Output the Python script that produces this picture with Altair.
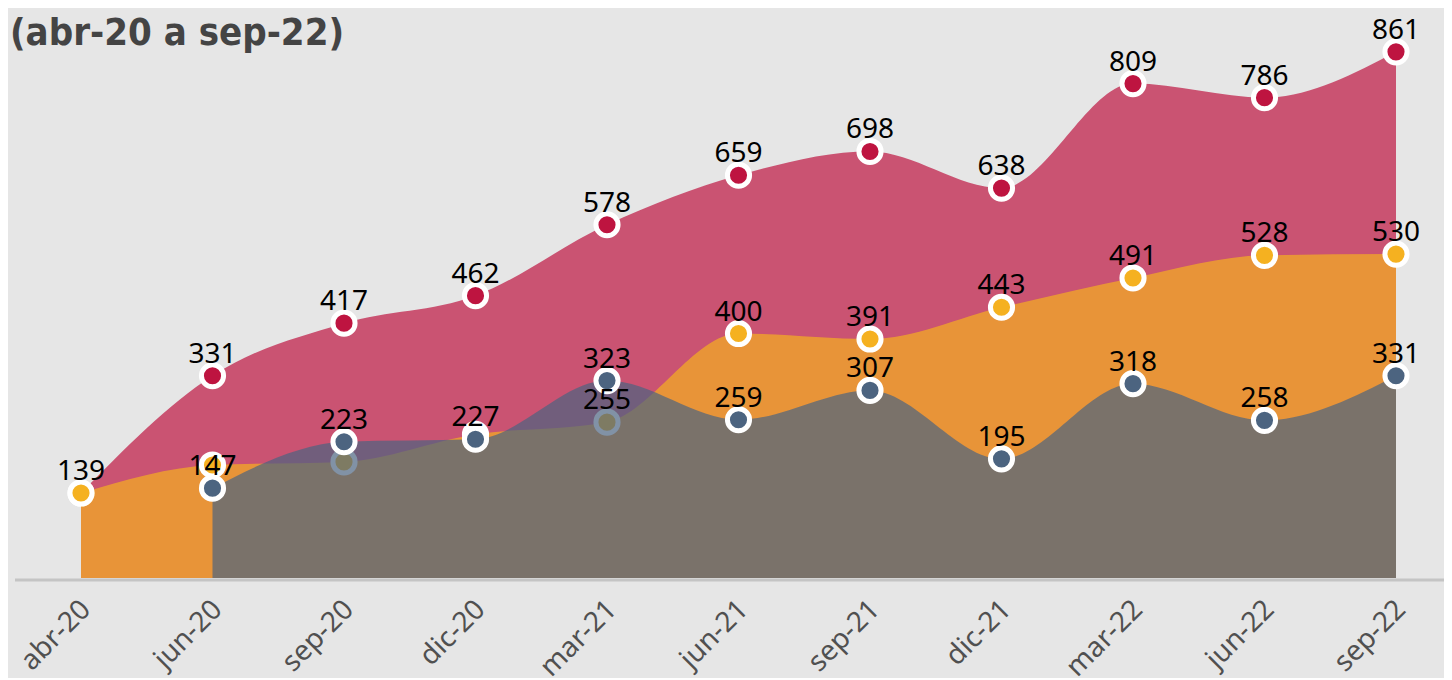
import json
import altair as alt
import pandas as pd

titulo = "(abr-20 a sep-22)"
meses = ["abr-20", "jun-20", "sep-20", "dic-20", "mar-21", "jun-21",
         "sep-21", "dic-21", "mar-22", "jun-22", "sep-22"]
rojo = [139, 331, 417, 462, 578, 659, 698, 638, 809, 786, 861]
naranja = [139, 185, 190, 235, 255, 400, 391, 443, 491, 528, 530]
azul = [None, 147, 223, 227, 323, 259, 307, 195, 318, 258, 331]
ocultas_rojo = ["abr-20"]
ocultas_naranja = ["jun-20", "sep-20", "dic-20"]
ocultas_azul = []

C_ROJO = "#be1440"
C_NARANJA = "#f5b120"
C_AZUL = "#4c6480"

W, H = 1429, 550
step = 131.5
x0 = 66
xs = alt.Scale(domain=[-x0 / step, (W - x0) / step], nice=False, zero=False)
ys = alt.Scale(domain=[0, 900], nice=False)

label_expr = json.dumps(meses) + "[datum.value]"
x_axis = alt.Axis(values=list(range(len(meses))), labelExpr=label_expr,
                  domain=False, ticks=False, grid=False, title=None,
                  labelAngle=315, labelAlign="right", labelBaseline="middle",
                  labelFontSize=28, labelColor="#505050", labelFont="Noto Sans",
                  labelPadding=27, labelOffset=5, labelFlush=False,
                  labelOverlap=False)


def tabla(vals, ocultas):
    filas = []
    for i, (m, v) in enumerate(zip(meses, vals)):
        if v is None:
            continue
        filas.append({"i": i, "mes": m, "v": v,
                      "lab": "" if m in ocultas else str(v)})
    return pd.DataFrame(filas)


X = alt.X("i:Q", scale=xs, axis=x_axis)
Y = alt.Y("v:Q", scale=ys, axis=None)

series = [(rojo, C_ROJO, ocultas_rojo),
          (naranja, C_NARANJA, ocultas_naranja),
          (azul, C_AZUL, ocultas_azul)]

regla = alt.Chart(pd.DataFrame({"a": [0]})).mark_rule(
    color="#c4c4c4", strokeWidth=3).encode(
    x=alt.value(0), x2=alt.value(W), y=alt.value(552))

capas = [regla]
textos = []
for vals, col, ocultas in series:
    df = tabla(vals, ocultas)
    base = alt.Chart(df).encode(x=X, y=Y)
    capas.append(base.mark_area(interpolate="monotone", color=col,
                                fillOpacity=0.7, strokeWidth=0))
    capas.append(base.mark_circle(size=490, fill=col, stroke="white",
                                  strokeWidth=5, opacity=1))
    textos.append(base.mark_text(dy=-13, baseline="alphabetic",
                                 fontSize=28, font="Noto Sans",
                                 color="black").encode(text="lab:N"))

tit = alt.Chart(pd.DataFrame({"t": [titulo]})).mark_text(
    align="left", baseline="alphabetic",
    font="Liberation Sans Narrow, DejaVu Sans Condensed, sans-serif",
    fontWeight="bold", fontSize=38, color="#444444").encode(
    x=alt.value(-5), y=alt.value(17), text="t:N")

chart = alt.layer(*capas, *textos, tit).properties(
    width=W, height=H,
    padding={"left": 7, "top": 20, "right": 0, "bottom": 100},
    autosize=alt.AutoSizeParams(type="none"),
    background="#e6e6e6",
).configure_view(stroke=None)

chart.save("out.html", embed_options={"renderer": "svg", "actions": False})
